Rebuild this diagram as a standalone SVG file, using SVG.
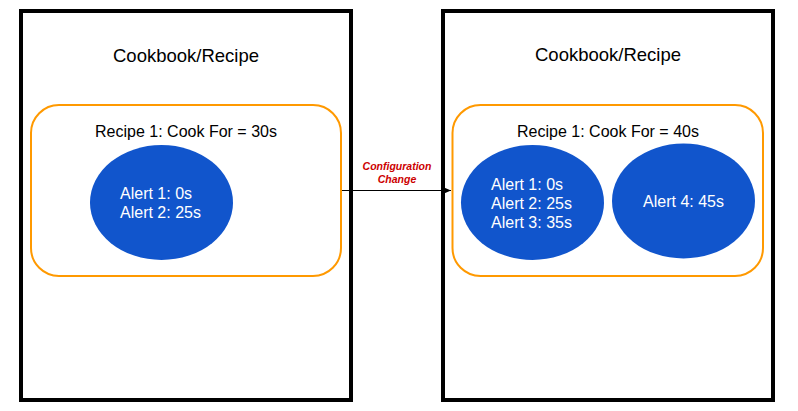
<svg xmlns="http://www.w3.org/2000/svg" width="798" height="411" viewBox="0 0 798 411">
  <defs>
    <style>
      .book { fill: #ffffff; stroke: #000000; stroke-width: 4; }
      .recipe { fill: #ffffff; stroke: #ff9900; stroke-width: 2; }
      .alert { fill: #1155cc; stroke: none; }
      .title { font-family: "Liberation Sans", Arial, sans-serif; font-size: 18.5px; fill: #000000; text-anchor: middle; }
      .rtitle { font-family: "Liberation Sans", Arial, sans-serif; font-size: 16px; fill: #000000; text-anchor: middle; }
      .atext { font-family: "Liberation Sans", Arial, sans-serif; font-size: 16px; fill: #ffffff; }
      .label { font-family: "Liberation Sans", Arial, sans-serif; font-size: 10.5px; font-weight: bold; font-style: italic; fill: #cc0000; text-anchor: middle; }
      .conn { stroke: #000000; stroke-width: 1; fill: none; }
    </style>
    <marker id="arrow" markerWidth="8" markerHeight="8" refX="7" refY="4" orient="auto" markerUnits="userSpaceOnUse">
      <path d="M0,1 L7,4 L0,7 Z" fill="#000000"/>
    </marker>
  </defs>

  <g id="book-before">
    <rect class="book" x="21" y="11" width="330" height="389"/>
    <text class="title" x="186" y="61.5">Cookbook/Recipe</text>
  </g>
  <g id="recipe-before">
    <rect class="recipe" x="31" y="105" width="310" height="171" rx="28" ry="28"/>
    <text class="rtitle" x="186" y="136.5">Recipe 1: Cook For = 30s</text>
  </g>
  <g id="alerts-before">
    <ellipse class="alert" cx="161.5" cy="202.5" rx="71.5" ry="57.5"/>
    <text class="atext" x="120" y="199">Alert 1: 0s</text>
    <text class="atext" x="120" y="218">Alert 2: 25s</text>
  </g>

  <g id="book-after">
    <rect class="book" x="443" y="11" width="330" height="389"/>
    <text class="title" x="608" y="60.5">Cookbook/Recipe</text>
  </g>
  <g id="recipe-after">
    <rect class="recipe" x="452.5" y="105" width="310.5" height="171" rx="28" ry="28"/>
    <text class="rtitle" x="608" y="136.5">Recipe 1: Cook For = 40s</text>
  </g>
  <g id="alerts-after-1">
    <ellipse class="alert" cx="532.5" cy="202.5" rx="71.5" ry="57.5"/>
    <text class="atext" x="491" y="189.5">Alert 1: 0s</text>
    <text class="atext" x="491" y="208.5">Alert 2: 25s</text>
    <text class="atext" x="491" y="227.5">Alert 3: 35s</text>
  </g>
  <g id="alerts-after-2">
    <ellipse class="alert" cx="683.5" cy="201" rx="71.5" ry="57.5"/>
    <text class="atext" x="683.5" y="207" text-anchor="middle">Alert 4: 45s</text>
  </g>

  <g id="connectors">
    <line class="conn" x1="342" y1="190.5" x2="451" y2="190.5" marker-end="url(#arrow)"/>
    <text class="label" x="397" y="169.5">Configuration</text>
    <text class="label" x="397" y="182.5">Change</text>
  </g>
</svg>
